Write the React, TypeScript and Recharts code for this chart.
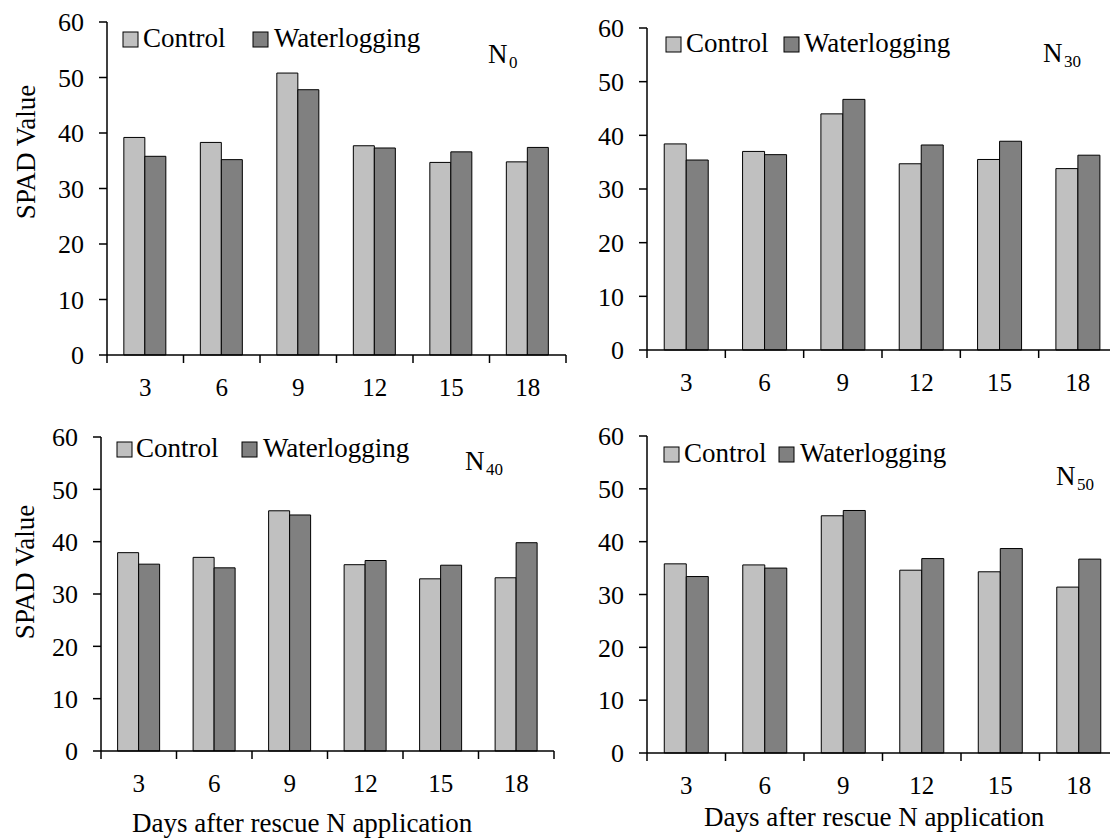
import { BarChart, Bar, XAxis, YAxis } from 'recharts';

const FONT = '"Liberation Serif", "Times New Roman", serif';

const DAYS = [3, 6, 9, 12, 15, 18];
const Y_TICKS = [0, 10, 20, 30, 40, 50, 60];

const SERIES = [
  { key: 'control', name: 'Control', fill: '#c0c0c0' },
  { key: 'water', name: 'Waterlogging', fill: '#808080' },
];

// SPAD readings
const N0_CONTROL = [39.2, 38.3, 50.8, 37.7, 34.7, 34.8];
const N0_WATER = [35.8, 35.2, 47.8, 37.3, 36.6, 37.4];
const N30_CONTROL = [38.4, 37.0, 44.0, 34.7, 35.5, 33.8];
const N30_WATER = [35.4, 36.4, 46.7, 38.2, 38.9, 36.3];
const N40_CONTROL = [37.9, 37.0, 45.9, 35.6, 32.9, 33.1];
const N40_WATER = [35.7, 35.0, 45.1, 36.4, 35.5, 39.8];
const N50_CONTROL = [35.8, 35.6, 44.9, 34.6, 34.3, 31.4];
const N50_WATER = [33.4, 35.0, 45.9, 36.8, 38.7, 36.7];

const toRows = (control: number[], water: number[]) =>
  DAYS.map((d, i) => ({ day: d, control: control[i], water: water[i] }));

// layout of the four panels (pixel positions on the page)
const PANELS = [
  {
    sub: '0', rows: toRows(N0_CONTROL, N0_WATER),
    axisX: 107, top: 22, plotW: 459, plotH: 333,
    legend: [{ sq: 123, tx: 143 }, { sq: 253, tx: 274 }], legendBase: 47,
    nX: 488, nBase: 63, yLabel: { x: 35, y: 152 }, xTitle: null,
  },
  {
    sub: '30', rows: toRows(N30_CONTROL, N30_WATER),
    axisX: 647, top: 28, plotW: 470, plotH: 322,
    legend: [{ sq: 666, tx: 686 }, { sq: 784, tx: 804 }], legendBase: 52,
    nX: 1043, nBase: 62, yLabel: null, xTitle: null,
  },
  {
    sub: '40', rows: toRows(N40_CONTROL, N40_WATER),
    axisX: 101, top: 437, plotW: 453, plotH: 314,
    legend: [{ sq: 117, tx: 136 }, { sq: 242, tx: 263 }], legendBase: 457,
    nX: 465, nBase: 470, yLabel: { x: 34, y: 572 }, xTitle: { x: 132, y: 832 },
  },
  {
    sub: '50', rows: toRows(N50_CONTROL, N50_WATER),
    axisX: 647, top: 436, plotW: 471, plotH: 317,
    legend: [{ sq: 664, tx: 684 }, { sq: 779, tx: 800 }], legendBase: 462,
    nX: 1056, nBase: 485, yLabel: null, xTitle: { x: 704, y: 826 },
  },
];

const Y_W = 70;
const X_H = 50;
const M_TOP = 20;

function makeDayTick(bw: number) {
  return (props: any) => {
    const { x, y, payload, index } = props;
    const left = x - bw / 2;
    const right = x + bw / 2;
    return (
      <g>
        <line x1={left} x2={left} y1={y} y2={y + 8} stroke="#000" strokeWidth={1.5} />
        {index === DAYS.length - 1 && (
          <line x1={right} x2={right} y1={y} y2={y + 8} stroke="#000" strokeWidth={1.5} />
        )}
        <text x={x} y={y + 41} textAnchor="middle" fontSize={25} fill="#000" fontFamily={FONT}>
          {payload.value}
        </text>
      </g>
    );
  };
}

function Panel({ p }: { p: (typeof PANELS)[number] }) {
  const bw = p.plotW / DAYS.length;
  return (
    <div style={{ position: 'absolute', left: p.axisX - Y_W, top: p.top - M_TOP }}>
      <BarChart
        width={p.plotW + Y_W + 10}
        height={p.plotH + M_TOP + X_H}
        data={p.rows}
        margin={{ top: M_TOP, right: 10, left: 0, bottom: 0 }}
        barCategoryGap="22%"
        barGap={0}
      >
        <XAxis
          dataKey="day"
          interval={0}
          height={X_H}
          tickSize={0}
          tickMargin={0}
          tickLine={false}
          axisLine={{ stroke: '#000', strokeWidth: 1.5 }}
          tick={makeDayTick(bw)}
        />
        <YAxis
          width={Y_W}
          domain={[0, 60]}
          ticks={Y_TICKS}
          interval={0}
          tickSize={8}
          tickMargin={15}
          axisLine={{ stroke: '#000', strokeWidth: 1.5 }}
          tickLine={{ stroke: '#000', strokeWidth: 1.5 }}
          tick={{ fill: '#000', fontSize: 26, fontFamily: FONT }}
        />
        {SERIES.map((s) => (
          <Bar
            key={s.key}
            dataKey={s.key}
            name={s.name}
            fill={s.fill}
            stroke="#000"
            strokeWidth={1}
            isAnimationActive={false}
          />
        ))}
      </BarChart>
    </div>
  );
}

export default function App() {
  return (
    <div
      style={{
        position: 'absolute',
        left: 0,
        top: 0,
        width: 1110,
        height: 839,
        overflow: 'hidden',
        background: '#fff',
        fontFamily: FONT,
      }}
    >
      {PANELS.map((p) => (
        <Panel key={p.sub} p={p} />
      ))}
      <svg
        width={1110}
        height={839}
        style={{ position: 'absolute', left: 0, top: 0, pointerEvents: 'none' }}
        fontFamily={FONT}
      >
        {PANELS.map((p) => (
          <g key={p.sub}>
            {SERIES.map((s, i) => (
              <g key={s.key}>
                <rect
                  x={p.legend[i].sq}
                  y={p.legendBase - 15}
                  width={15}
                  height={15}
                  fill={s.fill}
                  stroke="#000"
                  strokeWidth={1}
                />
                <text x={p.legend[i].tx} y={p.legendBase} fontSize={27} fill="#000">
                  {s.name}
                </text>
              </g>
            ))}
            <text x={p.nX} y={p.nBase} fontSize={27} fill="#000">N</text>
            <text x={p.nX + 21} y={p.nBase + 5} fontSize={17} fill="#000">{p.sub}</text>
            {p.yLabel && (
              <text
                x={p.yLabel.x}
                y={p.yLabel.y}
                fontSize={27}
                fill="#000"
                textAnchor="middle"
                transform={`rotate(-90 ${p.yLabel.x} ${p.yLabel.y})`}
              >
                SPAD Value
              </text>
            )}
            {p.xTitle && (
              <text x={p.xTitle.x} y={p.xTitle.y} fontSize={27} fill="#000">
                Days after rescue N application
              </text>
            )}
          </g>
        ))}
      </svg>
    </div>
  );
}
